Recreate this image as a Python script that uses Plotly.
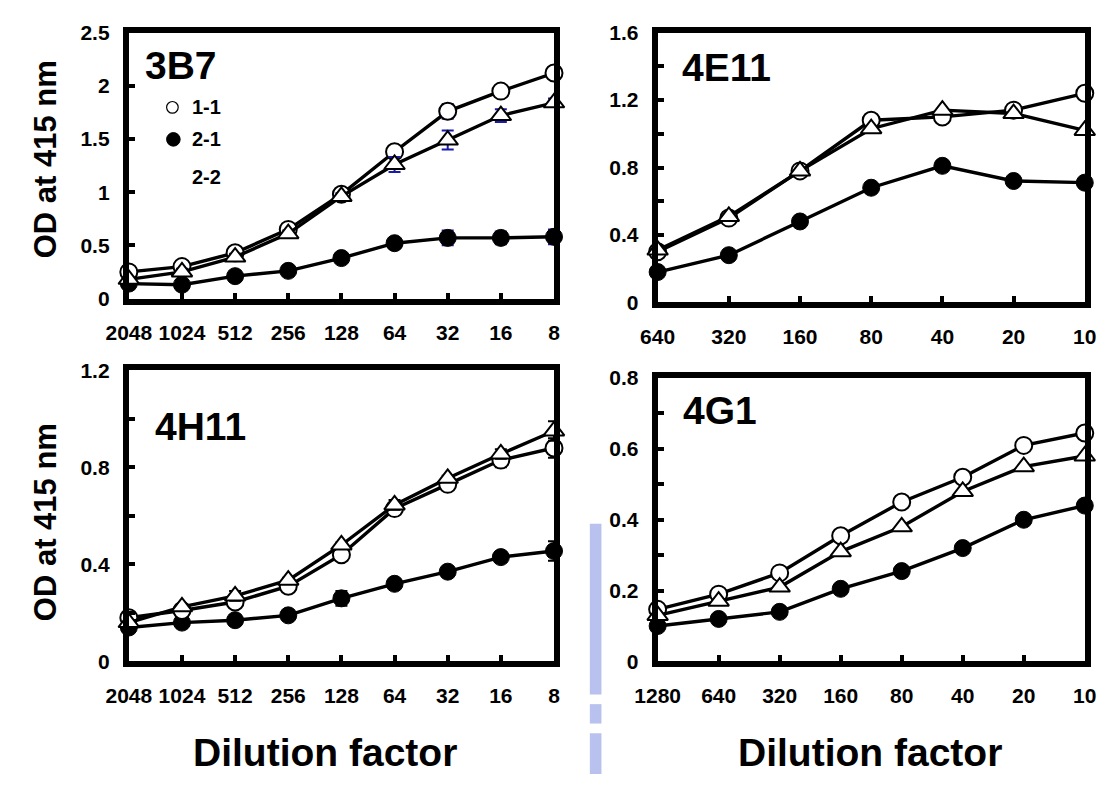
import plotly.graph_objects as go

# ---------------- data ----------------
cats_a = ["2048", "1024", "512", "256", "128", "64", "32", "16", "8"]      # 3B7 / 4H11
cats_b = ["640", "320", "160", "80", "40", "20", "10"]                      # 4E11
cats_c = ["1280", "640", "320", "160", "80", "40", "20", "10"]              # 4G1

# 3B7
b37_11 = [0.25, 0.30, 0.43, 0.65, 0.98, 1.38, 1.76, 1.95, 2.12]
b37_21 = [0.14, 0.13, 0.21, 0.26, 0.38, 0.52, 0.57, 0.57, 0.58]
b37_22 = [0.18, 0.25, 0.39, 0.61, 0.96, 1.26, 1.49, 1.72, 1.84]
b37_11_err = [0.02, 0.02, 0.03, 0.03, 0.03, 0.05, 0.07, 0.03, 0.03]
b37_21_err = [0.02, 0.02, 0.02, 0.03, 0.03, 0.04, 0.07, 0.06, 0.07]
b37_22_err = [0.02, 0.03, 0.03, 0.03, 0.03, 0.07, 0.09, 0.06, 0.04]

# 4E11
e411_11 = [0.30, 0.50, 0.78, 1.08, 1.10, 1.14, 1.24]
e411_21 = [0.18, 0.28, 0.48, 0.68, 0.81, 0.72, 0.71]
e411_22 = [0.31, 0.51, 0.78, 1.03, 1.14, 1.12, 1.02]

# 4H11
h411_11 = [0.18, 0.21, 0.245, 0.31, 0.44, 0.63, 0.73, 0.83, 0.88]
h411_21 = [0.14, 0.16, 0.17, 0.19, 0.26, 0.32, 0.37, 0.43, 0.455]
h411_22 = [0.16, 0.225, 0.27, 0.335, 0.48, 0.645, 0.755, 0.855, 0.95]
h411_11_err = [0.01, 0.01, 0.01, 0.01, 0.02, 0.02, 0.01, 0.03, 0.04]
h411_21_err = [0.01, 0.01, 0.01, 0.01, 0.03, 0.01, 0.02, 0.02, 0.04]
h411_22_err = [0.01, 0.01, 0.02, 0.01, 0.01, 0.02, 0.01, 0.02, 0.04]

# 4G1
g41_11 = [0.147, 0.19, 0.25, 0.355, 0.45, 0.52, 0.61, 0.645]
g41_21 = [0.10, 0.12, 0.14, 0.205, 0.255, 0.32, 0.40, 0.44]
g41_22 = [0.13, 0.17, 0.21, 0.31, 0.38, 0.48, 0.55, 0.58]

series_names = ["1-1", "2-1", "2-2"]
panel_names = ["3B7", "4E11", "4H11", "4G1"]

# ---------------- layout helpers ----------------
# the page body has an 8px margin, so the figure is drawn 8px in and down;
# size the figure to fill the remaining window and place things in window pixels
OFF = 8
W, H = 1120 - OFF, 785 - OFF
FONT = "Liberation Sans, Arial, sans-serif"

def px_x(p):
    return (p - OFF) / W

def px_y(p):
    return 1 - (p - OFF) / H

fig = go.Figure()

def add_panel(idx, cats, s11, s21, s22, e11=None, e21=None, e22=None, ecolor="black"):
    xa = "x" if idx == 1 else f"x{idx}"
    ya = "y" if idx == 1 else f"y{idx}"
    common = dict(x=cats, mode="lines+markers", xaxis=xa, yaxis=ya,
                  cliponaxis=False, showlegend=False,
                  line=dict(color="black", width=3.4))
    def err(arr):
        if arr is None:
            return None
        return dict(type="data", array=arr, color=ecolor, thickness=2, width=6)
    fig.add_trace(go.Scatter(y=s21, name=series_names[1], error_y=err(e21),
                             marker=dict(symbol="circle", size=17, color="black",
                                         line=dict(color="black", width=1)), **common))
    fig.add_trace(go.Scatter(y=s11, name=series_names[0], error_y=err(e11),
                             marker=dict(symbol="circle", size=17, color="white",
                                         line=dict(color="black", width=2)), **common))
    fig.add_trace(go.Scatter(y=s22, name=series_names[2], error_y=err(e22),
                             marker=dict(symbol="triangle-up", size=18, color="white",
                                         line=dict(color="black", width=2)), **common))

add_panel(1, cats_a, b37_11, b37_21, b37_22, b37_11_err, b37_21_err, b37_22_err, ecolor="#1a1aad")
add_panel(2, cats_b, e411_11, e411_21, e411_22)
add_panel(3, cats_a, h411_11, h411_21, h411_22, h411_11_err, h411_21_err, h411_22_err, ecolor="black")
add_panel(4, cats_c, g41_11, g41_21, g41_22)

tickfont = dict(family=FONT, size=21, color="black", weight="bold")
LW = 6

def xaxis_cfg(cats, dom, anchor):
    return dict(type="category", range=[0, len(cats) - 1], domain=dom, anchor=anchor,
                showline=True, linewidth=LW, linecolor="black", mirror=True,
                ticks="inside", ticklen=6, tickwidth=4, tickcolor="black",
                showgrid=False, zeroline=False, tickfont=tickfont,
                ticklabelstandoff=10)

def yaxis_cfg(rng, dtick, minor, dom, anchor):
    cfg = dict(range=rng, dtick=dtick, tick0=0, domain=dom, anchor=anchor,
               showline=True, linewidth=LW, linecolor="black", mirror=True,
               ticks="inside", ticklen=6, tickwidth=4, tickcolor="black",
               showgrid=False, zeroline=False, tickfont=tickfont,
               ticklabelstandoff=9)
    if minor:
        cfg["minor"] = dict(dtick=minor, ticks="inside", ticklen=6, tickwidth=4,
                            tickcolor="black", showgrid=False)
    return cfg

# panel boxes in window pixels (frame-line centres)
p1x, p1y = [106, 551], [18, 298]
p2x, p2y = [652, 1099], [18, 302]
p3x, p3y = [106, 551], [366, 672]
p4x, p4y = [652, 1099], [374, 672]

HALF = LW / 2

def dx(b):
    return [px_x(b[0] + HALF), px_x(b[1] - HALF)]

def dy(b):
    return [px_y(b[1] - HALF), px_y(b[0] + HALF)]

fig.update_layout(
    width=W, height=H,
    margin=dict(l=0, r=0, t=0, b=0),
    paper_bgcolor="white", plot_bgcolor="white",
    font=dict(family=FONT, color="black"),
    xaxis=xaxis_cfg(cats_a, dx(p1x), "y"),
    yaxis=yaxis_cfg([0, 2.5], 0.5, None, dy(p1y), "x"),
    xaxis2=xaxis_cfg(cats_b, dx(p2x), "y2"),
    yaxis2=yaxis_cfg([0, 1.6], 0.4, 0.2, dy(p2y), "x2"),
    xaxis3=xaxis_cfg(cats_a, dx(p3x), "y3"),
    yaxis3=yaxis_cfg([0, 1.2], 0.4, 0.2, dy(p3y), "x3"),
    xaxis4=xaxis_cfg(cats_c, dx(p4x), "y4"),
    yaxis4=yaxis_cfg([0, 0.8], 0.2, 0.1, dy(p4y), "x4"),
)

annotations = []
# panel labels
label_pos = [(163, 55), (726, 57), (183, 427), (719, 410)]
for name, (lx, ly) in zip(panel_names, label_pos):
    annotations.append(dict(text=name, x=px_x(lx), y=px_y(ly), xref="paper", yref="paper",
                            showarrow=False, xanchor="center", yanchor="middle",
                            font=dict(family=FONT, size=39, color="black", weight="bold")))
# y titles
for cy in (152, 526):
    annotations.append(dict(text="OD at 415 nm", x=px_x(23), y=px_y(cy), xref="paper", yref="paper",
                            showarrow=False, textangle=-90, xanchor="center", yanchor="middle",
                            font=dict(family=FONT, size=31, color="black", weight="bold")))
# x titles
for cx in (312, 874):
    annotations.append(dict(text="Dilution factor", x=px_x(cx), y=px_y(763), xref="paper", yref="paper",
                            showarrow=False, xanchor="center", yanchor="middle",
                            font=dict(family=FONT, size=39, color="black", weight="bold")))
# legend text
for name, ly in zip(series_names, (98, 131, 170)):
    annotations.append(dict(text=name, x=px_x(172), y=px_y(ly), xref="paper", yref="paper",
                            showarrow=False, xanchor="left", yanchor="middle",
                            font=dict(family=FONT, size=20, color="black", weight="bold")))
fig.update_layout(annotations=annotations)

shapes = [
    # legend symbols
    dict(type="circle", xref="paper", yref="paper",
         x0=px_x(148), x1=px_x(160), y0=px_y(104), y1=px_y(92),
         line=dict(color="black", width=1.2), fillcolor="white"),
    dict(type="circle", xref="paper", yref="paper",
         x0=px_x(148), x1=px_x(162), y0=px_y(138), y1=px_y(124),
         line=dict(color="black", width=1), fillcolor="black"),
]
# faint watermark strip (broken into pieces like the scanned original)
for y0, y1 in ((527, 703), (713, 733), (743, 785)):
    shapes.append(dict(type="rect", xref="paper", yref="paper",
                       x0=px_x(585), x1=px_x(597), y0=px_y(y1), y1=px_y(y0),
                       line=dict(width=0), fillcolor="#b9c2ee", layer="below"))
fig.update_layout(shapes=shapes)

fig.write_html("out.html")
